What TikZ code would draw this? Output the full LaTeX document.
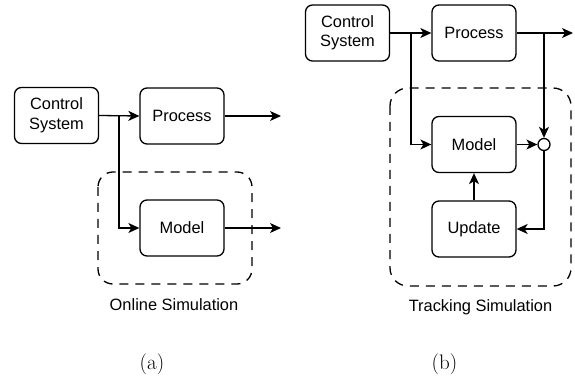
\documentclass[tikz,border=0pt]{standalone}
\usepackage{fontspec}
\setsansfont{Liberation Sans}
\usetikzlibrary{arrows.meta}
\begin{document}
\begin{tikzpicture}[x=1pt,y=-1pt,
  blk/.style={draw, line width=1.3pt, rounded corners=7pt, minimum width=84pt, minimum height=56pt, inner sep=0pt, align=center, font=\sffamily\fontsize{16.4}{19.5}\selectfont},
  lbl/.style={font=\sffamily\fontsize{16.4}{19.5}\selectfont, anchor=base, inner sep=0pt},
  captxt/.style={font=\fontsize{21}{25}\selectfont, inner sep=0pt},
  con/.style={line width=1.3pt, -{Stealth[length=11pt,width=10pt,inset=3pt]}},
  ln/.style={line width=1.3pt},
  grp/.style={draw, line width=1.3pt, dash pattern=on 9pt off 7pt},
  sumnode/.style={circle, draw, line width=1.3pt, minimum size=12pt, inner sep=0pt, fill=white}
]
\useasboundingbox (0,0) rectangle (575,379);

% ---------- panel (a) ----------
\draw[grp, rounded corners=15pt] (98,172) rectangle (252,284);
\node[blk] (csa) at (56.5,115.5) {Control\\System};
\node[blk] (proca) at (182,116) {Process};
\node[blk] (modela) at (182,228) {Model};
\coordinate (ja) at (119,116);
\coordinate (oa1) at (281,116);
\coordinate (oa2) at (281,228);
\draw[con] (csa.east) -- (proca.west);
\draw[con] (ja) |- (modela.west);
\draw[con] (proca.east) -- (oa1);
\draw[con] (modela.east) -- (oa2);
\node[lbl] (laba) at (174,310) {Online Simulation};
\node[captxt] (capa) at (152,364) {(a)};

% ---------- panel (b) ----------
\draw[grp, rounded corners=18pt] (390,88) rectangle (571,286);
\node[blk] (csb) at (347.5,33) {Control\\System};
\node[blk] (procb) at (474,33) {Process};
\node[blk] (modelb) at (474,144.5) {Model};
\node[blk] (updb) at (474,229) {Update};
\node[sumnode] (sum) at (544,144.5) {};
\coordinate (jb) at (411,33);
\coordinate (jb2) at (544,33);
\coordinate (ob) at (573,33);
\draw[con] (csb.east) -- (procb.west);
\draw[con] (jb) |- (modelb.west);
\draw[con] (procb.east) -- (ob);
\draw[con] (jb2) -- (sum.north);
\draw[con] (modelb.east) -- (sum.west);
\draw[con] (sum.south) |- (updb.east);
\draw[con] (updb.north) -- (modelb.south);
\node[lbl] (labb) at (480.5,311) {Tracking Simulation};
\node[captxt] (capb) at (444.5,364) {(b)};
\end{tikzpicture}
\end{document}
